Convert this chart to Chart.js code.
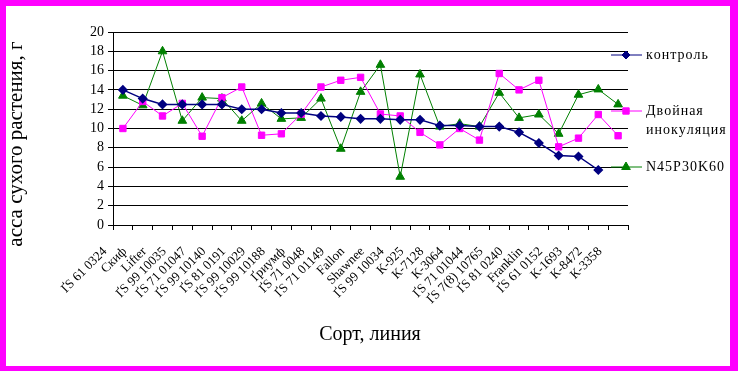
<!DOCTYPE html>
<html>
<head>
<meta charset="utf-8">
<script src="https://cdn.jsdelivr.net/npm/chart.js@4"></script>
<style>
    html, body { margin: 0; padding: 0; background: #ff00ff; }
    #wrap { position: absolute; left: 6px; top: 6px; width: 724px; height: 360px; background: #fff; }
</style>
</head>
<body>
<div id="wrap"><canvas id="chart" width="724" height="360"></canvas></div>
<script>
// сорта / линии
const categories = [
    'ҐS 61 0324', 'Скиф', 'Lifter', 'ҐS 99 10035', 'ҐS 71 01047', 'ҐS 99 10140',
    'ҐS 81 0191', 'ҐS 99 10029', 'ҐS 99 10188', 'Ґриумф', 'ҐS 71 0048', 'ҐS 71 01149',
    'Fallon', 'Shawnee', 'ҐS 99 10034', 'К-925', 'К-7128', 'К-3064', 'ҐS 71 01044',
    'ҐS 7(8) 10765', 'ҐS 81 0240', 'Franklin', 'ҐS 61 0152', 'К-1693', 'К-8472', 'К-3358'
];

const kontrol = [14.0, 13.1, 12.5, 12.5, 12.5, 12.5, 12.0, 12.0, 11.6, 11.6, 11.3, 11.2, 11.0,
    11.0, 10.9, 10.9, 10.3, 10.3, 10.2, 10.2, 9.6, 8.5, 7.2, 7.1, 5.7, null];
const dvoinaya = [10.0, 12.8, 11.3, 12.6, 9.2, 13.2, 14.3, 9.3, 9.45, 11.5, 14.3, 15.0, 15.3,
    11.5, 11.3, 9.6, 8.3, 10.0, 8.8, 15.7, 14.0, 15.0, 8.1, 9.0, 11.45, 9.25];
const npk = [13.4, 12.4, 18.0, 10.8, 13.2, 13.1, 10.8, 12.6, 11.0, 11.1, 13.1, 7.9, 13.8,
    16.6, 5.0, 15.6, 10.2, 10.5, 10.2, 13.7, 11.1, 11.45, 9.45, 13.5, 14.05, 12.5];

const seriesNames = ['контроль', ['Двойная', 'инокуляция'], 'N45P30K60'];
const yTicks = [0, 2, 4, 6, 8, 10, 12, 14, 16, 18, 20];

const serif = '"Liberation Serif", "DejaVu Serif", serif';

// легенда справа, как в исходнике
const legendPlugin = {
    id: 'sideLegend',
    afterDraw(chart) {
        const ctx = chart.ctx;
        const rows = [49, 105, 161];
        chart.data.datasets.forEach((ds, i) => {
            const y = rows[i];
            ctx.save();
            ctx.strokeStyle = ds.borderColor;
            ctx.lineWidth = 1;
            ctx.beginPath();
            ctx.moveTo(605, y);
            ctx.lineTo(636, y);
            ctx.stroke();
            ctx.fillStyle = ds.pointBackgroundColor;
            Chart.helpers.drawPoint(ctx, {
                pointStyle: ds.pointStyle,
                radius: ds.pointRadius,
                borderWidth: 1
            }, 620, y);
            ctx.restore();

            ctx.save();
            ctx.fillStyle = '#000';
            ctx.font = '14px ' + serif;
            ctx.textBaseline = 'middle';
            ctx.textAlign = 'left';
            const lines = Array.isArray(seriesNames[i]) ? seriesNames[i] : [seriesNames[i]];
            lines.forEach((t, k) => {
                // разреженный текст, как в растровом шрифте оригинала
                let x = 640;
                for (const ch of t) {
                    ctx.fillText(ch, x, y + k * 19);
                    x += ctx.measureText(ch).width + 1;
                }
            });
            ctx.restore();
        });
    }
};

// подписи осей
const axisTitles = {
    id: 'axisTitles',
    afterDraw(chart) {
        const ctx = chart.ctx;
        ctx.save();
        ctx.fillStyle = '#000';
        ctx.font = '20px ' + serif;
        ctx.textAlign = 'center';
        ctx.textBaseline = 'middle';
        ctx.fillText('Сорт, линия', 364, 329);
        ctx.translate(10, 138);
        ctx.rotate(-Math.PI / 2);
        ctx.font = '21px ' + serif;
        ctx.fillText('асса сухого растения, г', 0, 0);
        ctx.restore();
    }
};

new Chart(document.getElementById('chart'), {
    type: 'line',
    data: {
        labels: categories,
        datasets: [
            {
                label: 'контроль',
                data: kontrol,
                borderColor: '#000080',
                backgroundColor: '#000080',
                pointBackgroundColor: '#000080',
                pointBorderColor: '#000080',
                pointStyle: 'rectRot',
                pointRadius: 4,
                borderWidth: 1.5,
                tension: 0
            },
            {
                label: 'Двойная инокуляция',
                data: dvoinaya,
                borderColor: '#ff00ff',
                backgroundColor: '#ff00ff',
                pointBackgroundColor: '#ff00ff',
                pointBorderColor: '#ff00ff',
                pointStyle: 'rect',
                pointRadius: 4.5,
                borderWidth: 1,
                tension: 0
            },
            {
                label: 'N45P30K60',
                data: npk,
                borderColor: '#008000',
                backgroundColor: '#008000',
                pointBackgroundColor: '#008000',
                pointBorderColor: '#008000',
                pointStyle: 'triangle',
                pointRadius: 5,
                borderWidth: 1,
                tension: 0
            }
        ]
    },
    options: {
        responsive: false,
        animation: false,
        layout: { padding: { left: 0, right: 102, top: 26, bottom: 0 } },
        plugins: {
            legend: { display: false },
            tooltip: { enabled: false }
        },
        scales: {
            x: {
                offset: true,
                afterFit(scale) { scale.height = 141; },
                grid: {
                    offset: true,
                    drawOnChartArea: false,
                    drawTicks: true,
                    tickLength: 5,
                    color: '#000'
                },
                border: { color: '#000', width: 1 },
                ticks: {
                    autoSkip: false,
                    maxRotation: 45,
                    minRotation: 45,
                    color: '#000',
                    padding: 14,
                    labelOffset: -18,
                    font: { family: serif, size: 13 }
                }
            },
            y: {
                min: 0,
                max: 20,
                afterFit(scale) { scale.width = 107; },
                afterBuildTicks(scale) { scale.ticks = yTicks.map(v => ({ value: v })); },
                grid: { color: '#000', lineWidth: 1, tickLength: 5 },
                border: { color: '#000', width: 1 },
                ticks: {
                    autoSkip: false,
                    color: '#000',
                    padding: 4,
                    font: { family: serif, size: 14 }
                }
            }
        }
    },
    plugins: [legendPlugin, axisTitles]
});
</script>
</body>
</html>
